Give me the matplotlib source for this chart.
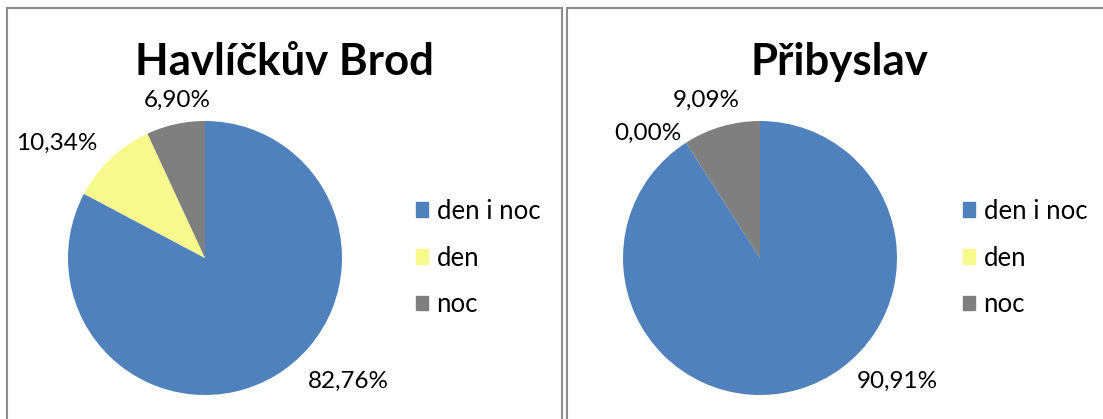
import matplotlib
matplotlib.use("Agg")
import matplotlib.pyplot as plt
from matplotlib.lines import Line2D

plt.rcParams['font.family'] = ['Lato', 'DejaVu Sans']

categories = ["den i noc", "den", "noc"]
colors = ["#4F81BD", "#F7F98C", "#7F7F7F"]

titles = ["Havlíčkův Brod", "Přibyslav"]
values_hb = [82.76, 10.34, 6.90]
values_pr = [90.91, 0.00, 9.09]
labels_hb = ["82,76%", "10,34%", "6,90%"]
labels_pr = ["90,91%", "0,00%", "9,09%"]
# label spots in pie units (Excel "best fit" placement)
label_pos_hb = [(1.05, -0.90), (-1.08, 0.84), (-0.20, 1.15)]
label_pos_pr = [(1.00, -0.90), (-0.82, 0.91), (-0.39, 1.15)]

W, H = 1103, 419
fig = plt.figure(figsize=(W / 100, H / 100), dpi=100)


def px(x, y):
    return x / W, 1 - y / H


def draw_panel(x0, x1, cx, title_x, title, values, labels, label_pos, leg_x):
    # panel frame (open at the bottom, clipped by image)
    c = "#8C8C8C"
    lw = 1.5
    fx0, fy0 = px(x0, 8)
    fx1, _ = px(x1, 8)
    fig.add_artist(Line2D([fx0, fx1], [fy0, fy0], color=c, lw=lw))
    fig.add_artist(Line2D([fx0, fx0], [fy0, -0.01], color=c, lw=lw))
    if x1 < W:
        fig.add_artist(Line2D([fx1, fx1], [fy0, -0.01], color=c, lw=lw))

    r = 137
    cy = 258
    ax = fig.add_axes([(cx - r) / W, (H - cy - r) / H, 2 * r / W, 2 * r / H])
    ax.pie(values, colors=colors, startangle=90, counterclock=False,
           wedgeprops=dict(linewidth=0))
    ax.set_xlim(-1, 1)
    ax.set_ylim(-1, 1)
    ax.set_aspect("auto")
    ax.axis("off")
    for (lx, ly), lab in zip(label_pos, labels):
        ax.text(lx, ly, lab, ha="center", va="center", fontsize=17.5, clip_on=False)

    tx, ty = px(title_x, 62)
    fig.text(tx, ty, title, ha="center", va="center", fontsize=31.5, fontweight="bold")

    handles = [plt.Rectangle((0, 0), 1, 1, color=col) for col in colors]
    lx, ly = px(leg_x, 258)
    fig.legend(handles, categories, loc="center left", bbox_to_anchor=(lx, ly),
               frameon=False, fontsize=18.5, handlelength=0.48, handleheight=0.48,
               handletextpad=0.32, labelspacing=0.85, borderpad=0, borderaxespad=0)


draw_panel(7, 562, 205, 284, titles[0], values_hb, labels_hb, label_pos_hb, 416)
draw_panel(567, 1110, 760, 839, titles[1], values_pr, labels_pr, label_pos_pr, 963)

fig.savefig("out.png", dpi=100)
